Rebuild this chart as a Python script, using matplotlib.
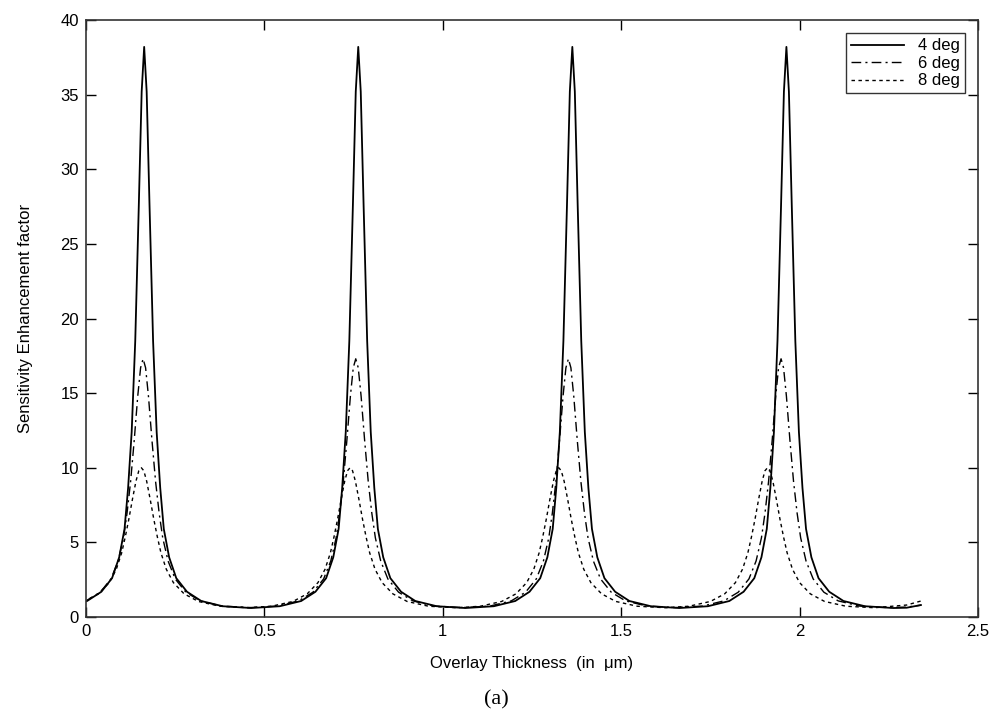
import numpy as np
import matplotlib
matplotlib.use('Agg')
import matplotlib.pyplot as plt

# peak centres (um)
peaks_4 = [0.163, 0.763, 1.363, 1.963]
peaks_6 = [0.160, 0.756, 1.352, 1.948]
peaks_8 = [0.155, 0.740, 1.325, 1.910]

# shape of one peak: offset from the centre and the value read there
offsets = [-0.22, -0.16, -0.12, -0.09, -0.07, -0.055, -0.045, -0.035, -0.025, -0.015, -0.007, 0.0,
           0.007, 0.015, 0.025, 0.035, 0.045, 0.055, 0.07, 0.09, 0.12, 0.16, 0.22, 0.30]
profile_4 = [0.72, 1.07, 1.69, 2.6, 4.0, 5.9, 8.65, 12.4, 18.5, 27.6, 35.2, 38.2,
             35.2, 27.6, 18.5, 12.4, 8.65, 5.9, 4.0, 2.6, 1.69, 1.07, 0.72, 0.60]
profile_6 = [0.73, 1.08, 1.66, 2.55, 3.75, 5.3, 6.96, 9.08, 11.8, 14.8, 16.7, 17.3,
             16.7, 14.8, 11.8, 9.08, 6.96, 5.3, 3.75, 2.55, 1.66, 1.08, 0.73, 0.63]
profile_8 = [0.72, 1.04, 1.55, 2.3, 3.2, 4.3, 5.36, 6.55, 7.87, 9.1, 9.8, 10.0,
             9.8, 9.1, 7.87, 6.55, 5.36, 4.3, 3.2, 2.3, 1.55, 1.04, 0.72, 0.62]

# tail after the last peak, up to where the curves stop
end_x = [2.30, 2.34]
end_4 = [0.62, 0.80]
end_6 = [0.66, 0.79]
end_8 = [0.80, 1.07]


def build_curve(peaks, profile, tail):
    xs, ys = [], []
    for c in peaks:
        xs += [c + d for d in offsets]
        ys += list(profile)
    xs += end_x
    ys += tail
    return np.array(xs), np.array(ys)


plt.rcParams['font.family'] = ['Liberation Sans Narrow', 'Liberation Sans', 'DejaVu Sans']

fig = plt.figure(figsize=(9.92, 7.18), dpi=100)
ax = fig.add_axes([0.0867, 0.1407, 0.8992, 0.8314])

x4, y4 = build_curve(peaks_4, profile_4, end_4)
x6, y6 = build_curve(peaks_6, profile_6, end_6)
x8, y8 = build_curve(peaks_8, profile_8, end_8)

ax.plot(x4, y4, color='k', lw=1.3, label='4 deg')
ax.plot(x6, y6, color='k', lw=1.0, linestyle=(0, (7, 3, 1.5, 3)), label='6 deg')
ax.plot(x8, y8, color='k', lw=1.0, linestyle=(0, (2.5, 2.5)), label='8 deg')

ax.set_xlim(0, 2.5)
ax.set_ylim(0, 40)
ax.set_xticks([0, 0.5, 1, 1.5, 2, 2.5])
ax.set_xticklabels(['0', '0.5', '1', '1.5', '2', '2.5'])
ax.set_yticks(range(0, 41, 5))
ax.tick_params(direction='in', length=7, width=1, top=True, right=True, labelsize=12, pad=5)
for s in ax.spines.values():
    s.set_linewidth(1.2)
    s.set_color('#333333')

ax.set_xlabel('Overlay Thickness  (in  \u03bcm)', fontsize=12, labelpad=12)
ax.set_ylabel('Sensitivity Enhancement factor', fontsize=12, labelpad=20)

leg = ax.legend(loc='upper right', fontsize=12, frameon=True, fancybox=False,
                borderaxespad=0.8, handlelength=3.2, labelspacing=0.15, borderpad=0.3)
leg.get_frame().set_edgecolor('k')
leg.get_frame().set_linewidth(1.0)

fig.text(0.5, 0.025, '(a)', ha='center', va='center', fontsize=16, family='Liberation Serif')

plt.savefig('out.png', dpi=100)
